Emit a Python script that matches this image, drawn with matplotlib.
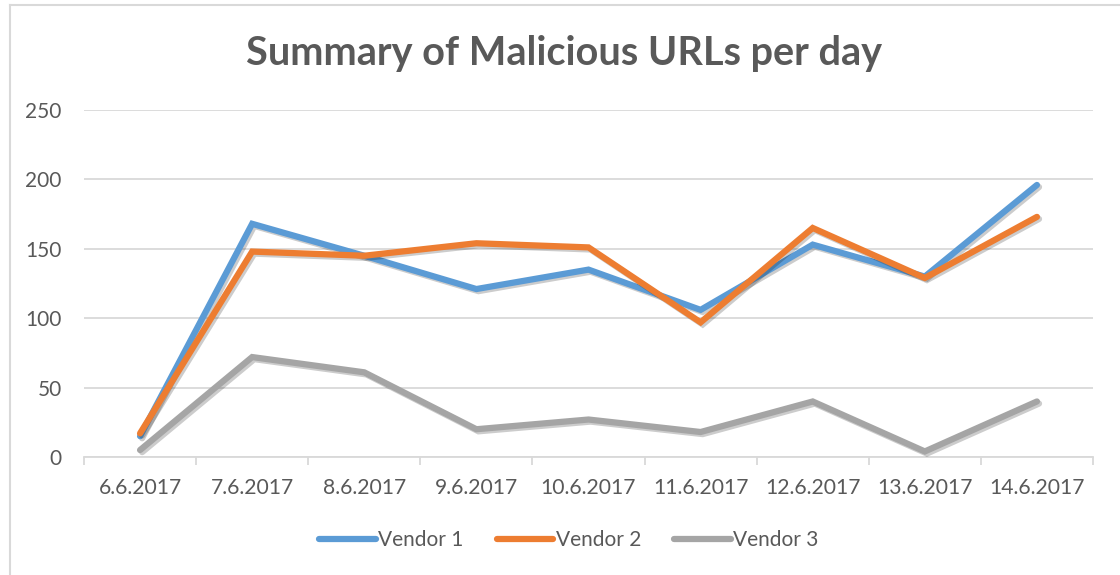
import matplotlib
matplotlib.use("Agg")
import matplotlib.pyplot as plt
import matplotlib.patheffects as pe
from matplotlib.lines import Line2D

plt.rcParams['font.family'] = ['Lato', 'DejaVu Sans']

# data
dates = ["6.6.2017", "7.6.2017", "8.6.2017", "9.6.2017", "10.6.2017",
         "11.6.2017", "12.6.2017", "13.6.2017", "14.6.2017"]
vendor1 = [15, 168, 145, 121, 135, 106, 153, 130, 196]
vendor2 = [17, 148, 145, 154, 151, 97, 165, 129, 173]
vendor3 = [5, 72, 61, 20, 27, 18, 40, 4, 40]

series = [("Vendor 1", vendor1, "#5B9BD5"),
          ("Vendor 2", vendor2, "#ED7D31"),
          ("Vendor 3", vendor3, "#A5A5A5")]

TXT = "#595959"
GRID = "#D9D9D9"

fig = plt.figure(figsize=(11.2, 5.75), dpi=100)
ax = fig.add_axes([84 / 1120, 1 - 457 / 575, (1093 - 84) / 1120, (457 - 110) / 575])

x = list(range(len(dates)))
shadow = [pe.SimpleLineShadow(offset=(1.5, -1.5), alpha=0.2, shadow_color="black"), pe.Normal()]
for name, vals, col in series:
    ax.plot(x, vals, color=col, lw=4.5, label=name, solid_capstyle="round",
            solid_joinstyle="miter", path_effects=shadow, zorder=3)

ax.set_xlim(-0.5, len(dates) - 0.5)
ax.set_ylim(0, 250)
ax.set_yticks(range(0, 251, 50))
ax.set_xticks(x)
ax.set_xticklabels(dates)
ax.set_xticks([i - 0.5 for i in range(len(dates) + 1)], minor=True)

ax.grid(axis="y", color=GRID, lw=1.3)
ax.set_axisbelow(True)
for s in ["top", "right", "left"]:
    ax.spines[s].set_visible(False)
ax.spines["bottom"].set_color(GRID)
ax.spines["bottom"].set_linewidth(1.3)

ax.tick_params(axis="x", which="major", length=0, pad=15, labelsize=15.2, labelcolor=TXT)
ax.tick_params(axis="x", which="minor", length=6, width=1.3, color=GRID)
ax.tick_params(axis="y", length=0, pad=16, labelsize=15, labelcolor=TXT)

fig.text(0.504, 1 - 53 / 575, "Summary of Malicious URLs per day", ha="center", va="center",
         fontsize=28.5, fontweight="bold", color=TXT)

handles = [Line2D([], [], color=c, lw=4.5, solid_capstyle="round") for _, _, c in series]
fig.legend(handles, [n for n, _, _ in series], loc="center", bbox_to_anchor=(0.508, 1 - 540 / 575),
           ncol=3, frameon=False, fontsize=15, labelcolor=TXT, handlelength=2.7,
           handletextpad=0.12, columnspacing=1.6)

# chart frame edges
fig.add_artist(Line2D([10 / 1120, 10 / 1120], [0, 1 - 5 / 575], color=GRID, lw=1.5))
fig.add_artist(Line2D([10 / 1120, 1], [1 - 5 / 575, 1 - 5 / 575], color=GRID, lw=1.5))

fig.savefig("out.png", dpi=100)
